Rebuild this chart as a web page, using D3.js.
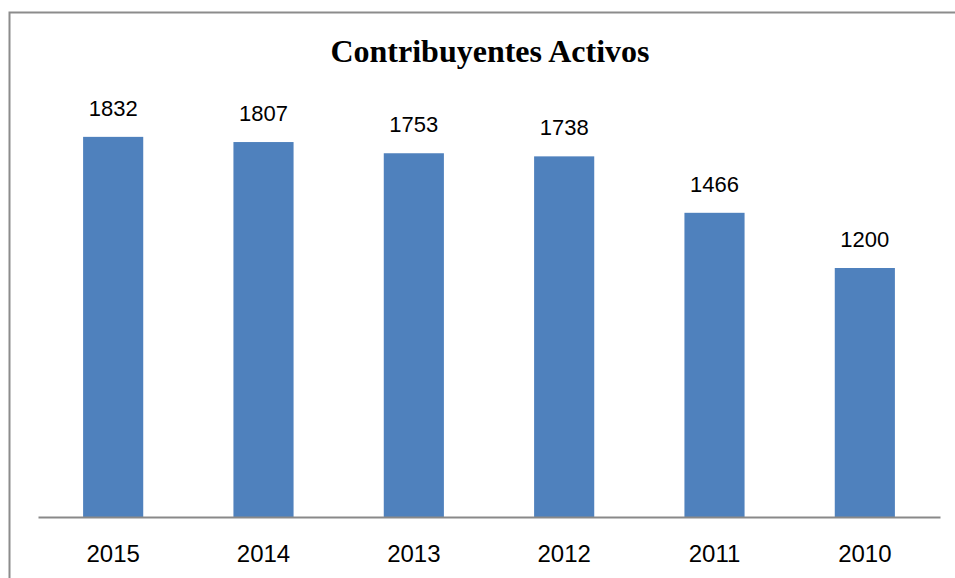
<!DOCTYPE html>
<html>
<head>
<meta charset="utf-8">
<script src="https://cdn.jsdelivr.net/npm/d3@7"></script>
<style>
  body { margin: 0; background: #fff; }
  svg { display: block; }
</style>
</head>
<body>
<svg></svg>
<script>
const years = ["2015", "2014", "2013", "2012", "2011", "2010"];
const activos = [1832, 1807, 1753, 1738, 1466, 1200];
const chartTitle = "Contribuyentes Activos";

const width = 955;
const height = 578;

const svg = d3.select("svg")
              .attr("width", width)
              .attr("height", height);

// outer frame (runs off the right and bottom edges)
svg.append("rect")
   .attr("x", 9.5)
   .attr("y", 12.5)
   .attr("width", 1000)
   .attr("height", 700)
   .attr("fill", "none")
   .attr("stroke", "#8c8c8c")
   .attr("stroke-width", 2);

const xScale = d3.scaleBand()
                 .domain(years)
                 .range([38, 940])
                 .paddingInner(0.6)
                 .paddingOuter(0.3);

const yScale = d3.scaleLinear()
                 .domain([0, 2000])
                 .range([517, 102]);

svg.append("text")
   .attr("x", 490)
   .attr("y", 62)
   .attr("text-anchor", "middle")
   .style("font-family", "'Liberation Serif', 'Times New Roman', serif")
   .style("font-weight", "bold")
   .style("font-size", "32px")
   .text(chartTitle);

const data = years.map((y, i) => ({ year: y, value: activos[i] }));

svg.selectAll(".bar")
   .data(data)
   .enter()
   .append("rect")
   .attr("class", "bar")
   .attr("x", d => xScale(d.year))
   .attr("y", d => yScale(d.value))
   .attr("width", xScale.bandwidth())
   .attr("height", d => yScale(0) - yScale(d.value))
   .attr("fill", "#4f81bd");

svg.selectAll(".val")
   .data(data)
   .enter()
   .append("text")
   .attr("class", "val")
   .attr("x", d => xScale(d.year) + xScale.bandwidth() / 2)
   .attr("y", d => yScale(d.value) - 21)
   .attr("text-anchor", "middle")
   .style("font-family", "'Liberation Sans', Arial, sans-serif")
   .style("font-size", "22px")
   .attr("fill", "#000")
   .text(d => d.value);

// category axis
const xAxis = d3.axisBottom(xScale).tickSize(0).tickPadding(28);

const gx = svg.append("g")
              .attr("transform", `translate(0, ${yScale(0)})`)
              .call(xAxis);

gx.select(".domain")
  .attr("stroke", "#898989")
  .attr("stroke-width", 2);

gx.selectAll("text")
  .style("font-family", "'Liberation Sans', Arial, sans-serif")
  .style("font-size", "24px")
  .attr("fill", "#000");
</script>
</body>
</html>
